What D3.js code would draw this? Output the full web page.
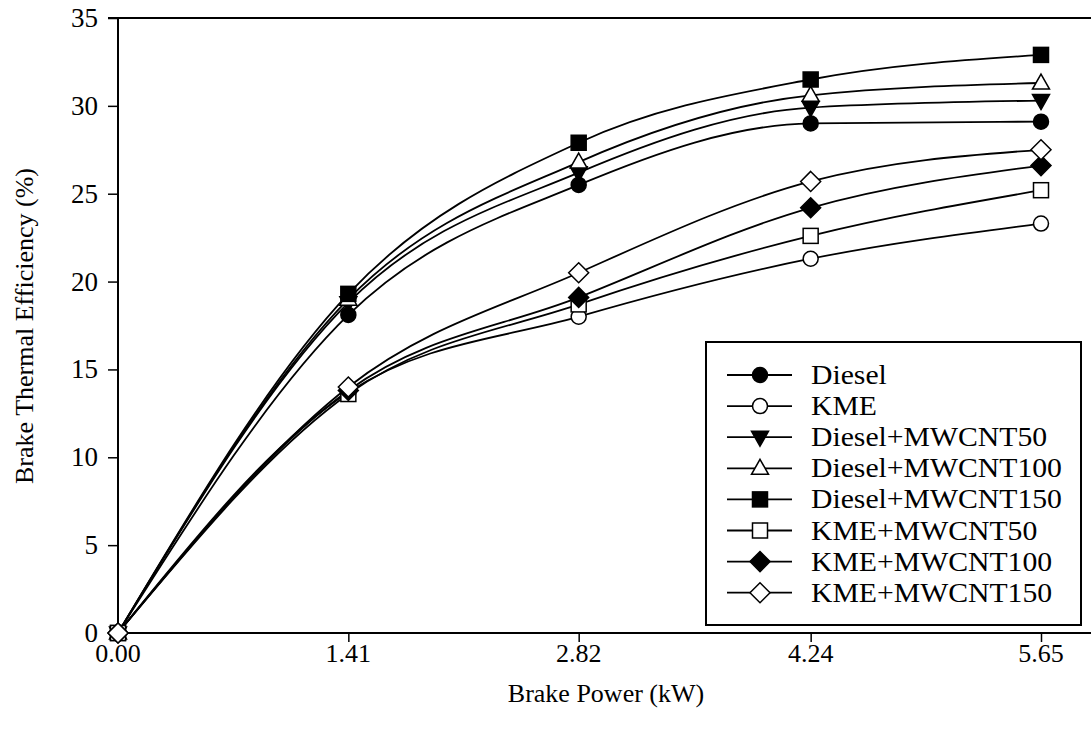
<!DOCTYPE html>
<html><head><meta charset="utf-8">
<script src="https://cdn.jsdelivr.net/npm/d3@7"></script>
<style>html,body{margin:0;padding:0;background:#fff}svg{display:block}text{font-family:"Liberation Serif","Times New Roman",serif;fill:#000}</style>
</head><body><svg id="c" width="1091" height="739"></svg>
<script>
const brakePower = [0, 1.41, 2.82, 4.24, 5.65];
const xTickLabels = ["0.00", "1.41", "2.82", "4.24", "5.65"];
const yTicks = [0, 5, 10, 15, 20, 25, 30, 35];
const seriesNames = ["Diesel", "KME", "Diesel+MWCNT50", "Diesel+MWCNT100", "Diesel+MWCNT150", "KME+MWCNT50", "KME+MWCNT100", "KME+MWCNT150"];
const diesel        = [0, 18.1, 25.5, 29.0, 29.1];
const kme           = [0, 13.7, 18.0, 21.3, 23.3];
const dieselMW50    = [0, 18.8, 26.2, 29.9, 30.3];
const dieselMW100   = [0, 19.0, 26.8, 30.6, 31.3];
const dieselMW150   = [0, 19.3, 27.9, 31.5, 32.9];
const kmeMW50       = [0, 13.6, 18.7, 22.6, 25.2];
const kmeMW100      = [0, 13.8, 19.1, 24.2, 26.6];
const kmeMW150      = [0, 14.0, 20.5, 25.7, 27.5];
const seriesValues = [diesel, kme, dieselMW50, dieselMW100, dieselMW150, kmeMW50, kmeMW100, kmeMW150];
const markerShapes = ["circle", "circle", "triDown", "triUp", "square", "square", "diamond", "diamond"];
const markerFilled = [true, false, true, false, true, false, true, false];

const svg = d3.select("#c");
const L = 118, R = 1041, T = 18, B = 633;
const x = d3.scaleLinear().domain([0, 5.65]).range([L, R]);
const y = d3.scaleLinear().domain([0, 35]).range([B, T]);

function stext(g, tx, ty, str, size, anchor, rot, sx) {
  const gg = g.append("g").attr("transform", `translate(${tx},${ty}) scale(${sx || 1},1)` + (rot ? ` rotate(${rot})` : ""));
  gg.append("text").attr("text-anchor", anchor).attr("dominant-baseline", "central").style("font-size", size + "px").text(str);
}

// x axis
const xAxis = d3.axisBottom(x).tickValues(brakePower).tickFormat((d, i) => xTickLabels[i]).tickSize(9).tickPadding(8);
const gx = svg.append("g").attr("transform", `translate(0,${B})`).call(xAxis);
gx.select(".domain").remove();
gx.selectAll(".tick line").attr("stroke", "#000").attr("stroke-width", 1.5);
gx.selectAll(".tick text").remove();
brakePower.forEach((v, i) => stext(svg, x(v), 653, xTickLabels[i], 26, "middle"));
svg.append("line").attr("x1", L).attr("x2", 1091).attr("y1", B).attr("y2", B).attr("stroke", "#000").attr("stroke-width", 2);
// y axis
const yAxis = d3.axisLeft(y).tickValues(yTicks).tickSize(10).tickPadding(8);
const gy = svg.append("g").attr("transform", `translate(${L},0)`).call(yAxis);
gy.select(".domain").remove();
gy.selectAll(".tick line").attr("stroke", "#000").attr("stroke-width", 1.5);
gy.selectAll(".tick text").remove();
yTicks.forEach(v => stext(svg, 98, y(v), String(v), 27, "end"));
svg.append("line").attr("x1", L).attr("x2", L).attr("y1", T).attr("y2", B).attr("stroke", "#000").attr("stroke-width", 2);
svg.append("line").attr("x1", L - 10).attr("x2", 1091).attr("y1", T).attr("y2", T).attr("stroke", "#000").attr("stroke-width", 2);

// axis titles
stext(svg, 606, 693, "Brake Power (kW)", 26, "middle");
stext(svg, 24, 326, "Brake Thermal Efficiency (%)", 26, "middle", -90);

function marker(g, shape, filled, cx, cy) {
  const fill = filled ? "#000" : "#fff";
  let el;
  if (shape === "circle") el = g.append("circle").attr("cx", cx).attr("cy", cy).attr("r", 7.5);
  else if (shape === "square") el = g.append("rect").attr("x", cx - 7.5).attr("y", cy - 7.5).attr("width", 15).attr("height", 15);
  else if (shape === "triUp") el = g.append("path").attr("d", `M${cx},${cy - 9}L${cx + 8.5},${cy + 6}L${cx - 8.5},${cy + 6}Z`);
  else if (shape === "triDown") el = g.append("path").attr("d", `M${cx},${cy + 9}L${cx + 8.5},${cy - 6}L${cx - 8.5},${cy - 6}Z`);
  else el = g.append("path").attr("d", `M${cx},${cy - 10}L${cx + 10},${cy}L${cx},${cy + 10}L${cx - 10},${cy}Z`);
  el.attr("fill", fill).attr("stroke", "#000").attr("stroke-width", 1.5);
}

const line = d3.line().x((d, i) => x(brakePower[i])).y(d => y(d)).curve(d3.curveMonotoneX);
const plot = svg.append("g");
seriesValues.forEach(vals => {
  plot.append("path").attr("d", line(vals)).attr("fill", "none").attr("stroke", "#000").attr("stroke-width", 1.8);
});
seriesValues.forEach((vals, s) => {
  vals.forEach((v, i) => marker(plot, markerShapes[s], markerFilled[s], x(brakePower[i]), y(v)));
});

// legend
const lg = svg.append("g");
lg.append("rect").attr("x", 706).attr("y", 342).attr("width", 375).attr("height", 283).attr("fill", "#fff").attr("stroke", "#000").attr("stroke-width", 2);
seriesNames.forEach((name, s) => {
  const ly = 375 + s * 31.1;
  lg.append("line").attr("x1", 727).attr("x2", 792).attr("y1", ly).attr("y2", ly).attr("stroke", "#000").attr("stroke-width", 1.8);
  marker(lg, markerShapes[s], markerFilled[s], 760, ly);
  stext(lg, 811, ly, name, 27, "start", 0, 1.1);
});
</script></body></html>
